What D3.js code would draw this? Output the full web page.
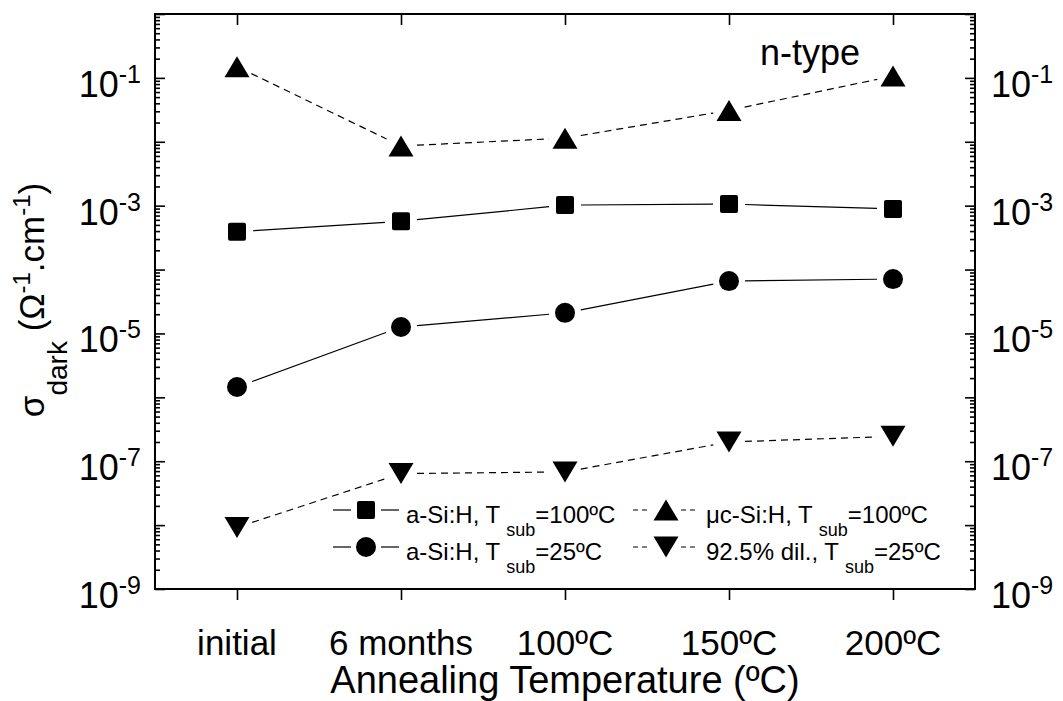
<!DOCTYPE html>
<html>
<head>
<meta charset="utf-8">
<script src="https://cdn.jsdelivr.net/npm/d3@7"></script>
<style>
  body { margin: 0; background: #fff; }
  text { font-family: "Liberation Sans", Arial, sans-serif; fill: #000; }
</style>
</head>
<body>
<div id="chart"></div>
<script>
// data
const categories = ["initial", "6 months", "100ºC", "150ºC", "200ºC"];
const aSi100 = [3.9e-4, 5.7e-4, 1.02e-3, 1.06e-3, 8.9e-4];
const aSi25 = [1.45e-6, 1.26e-5, 2.1e-5, 6.6e-5, 7.1e-5];
const mcSi100 = [0.15, 0.0086, 0.0114, 0.031, 0.107];
const dil25 = [9.2e-9, 6.4e-8, 6.8e-8, 2.0e-7, 2.45e-7];
const yTickExps = [-9, -7, -5, -3, -1];

const width = 1063, height = 701;
const plotL = 155, plotR = 975, plotT = 14, plotB = 589;

const svg = d3.select("#chart").append("svg")
    .attr("width", width)
    .attr("height", height);

const x = d3.scalePoint().domain(categories).range([plotL, plotR]).padding(0.5);
const y = d3.scaleLog().domain([1e-9, 1]).range([plotB, plotT]);

// minor / major log ticks
const major = d3.range(-9, 1).map(e => Math.pow(10, e));
const minor = [];
for (let e = -9; e < 0; e++) {
    for (let m = 2; m <= 9; m++) minor.push(m * Math.pow(10, e));
}

function yAxis(axisFn, x0, vals, size) {
    svg.append("g")
        .attr("transform", `translate(${x0},0)`)
        .call(axisFn(y).tickValues(vals).tickSize(size).tickFormat(""))
        .call(g => g.select(".domain").remove())
        .selectAll("line").attr("stroke", "#000").attr("stroke-width", 1.6);
}
yAxis(d3.axisRight, plotL, major, 10);
yAxis(d3.axisRight, plotL, minor, 5);
yAxis(d3.axisLeft, plotR, major, 10);
yAxis(d3.axisLeft, plotR, minor, 5);

// x ticks: inward at top, outward at bottom
svg.append("g")
    .attr("transform", `translate(0,${plotT})`)
    .call(d3.axisBottom(x).tickSize(11).tickFormat(""))
    .call(g => g.select(".domain").remove())
    .selectAll("line").attr("stroke", "#000").attr("stroke-width", 1.6);
svg.append("g")
    .attr("transform", `translate(0,${plotB})`)
    .call(d3.axisBottom(x).tickSize(11).tickFormat(""))
    .call(g => g.select(".domain").remove())
    .selectAll("line").attr("stroke", "#000").attr("stroke-width", 1.6);

// frame
svg.append("rect")
    .attr("x", plotL).attr("y", plotT)
    .attr("width", plotR - plotL).attr("height", plotB - plotT)
    .attr("fill", "none").attr("stroke", "#000").attr("stroke-width", 2);

// x tick labels
svg.append("g").selectAll("text")
    .data(categories)
    .join("text")
    .attr("x", d => x(d))
    .attr("y", 655)
    .attr("text-anchor", "middle")
    .attr("font-size", 35)
    .text(d => d);

// y tick labels, both sides
function powLabel(xPos, anchor) {
    const t = svg.append("g").selectAll("text")
        .data(yTickExps)
        .join("text")
        .attr("x", xPos)
        .attr("y", d => y(Math.pow(10, d)) + 19)
        .attr("text-anchor", anchor)
        .attr("font-size", 36);
    t.append("tspan").text("10");
    t.append("tspan").attr("font-size", 25).attr("dy", -14).text(d => "-" + (-d));
}
powLabel(141, "end");
powLabel(991, "start");

// axis titles
svg.append("text")
    .attr("x", (plotL + plotR) / 2)
    .attr("y", 693)
    .attr("text-anchor", "middle")
    .attr("font-size", 38)
    .text("Annealing Temperature (ºC)");

const yl = svg.append("text")
    .attr("transform", "translate(44,300) rotate(-90)")
    .attr("text-anchor", "middle")
    .attr("font-size", 35);
yl.append("tspan").text("σ");
yl.append("tspan").attr("font-size", 28).attr("dy", 23).text("dark");
yl.append("tspan").attr("dy", -23).text(" (Ω");
yl.append("tspan").attr("font-size", 24).attr("dy", -14).text("-1");
yl.append("tspan").attr("dy", 14).text(".cm");
yl.append("tspan").attr("font-size", 24).attr("dy", -14).text("-1");
yl.append("tspan").attr("dy", 14).text(")");

svg.append("text")
    .attr("x", 760).attr("y", 65)
    .attr("font-size", 36)
    .text("n-type");

// series
const series = [
    { name: "aSi100", values: aSi100, marker: "square", dash: null },
    { name: "aSi25", values: aSi25, marker: "circle", dash: null },
    { name: "mcSi100", values: mcSi100, marker: "up", dash: "7,5" },
    { name: "dil25", values: dil25, marker: "down", dash: "7,5" }
];

function drawMarker(g, type, cx, cy) {
    if (type === "square") {
        g.append("rect").attr("x", cx - 9).attr("y", cy - 9)
            .attr("width", 18).attr("height", 18).attr("rx", 2).attr("fill", "#000");
    } else if (type === "circle") {
        g.append("circle").attr("cx", cx).attr("cy", cy).attr("r", 10).attr("fill", "#000");
    } else if (type === "up") {
        g.append("path").attr("d", `M${cx},${cy - 10.5}L${cx + 12.5},${cy + 10.5}L${cx - 12.5},${cy + 10.5}Z`)
            .attr("fill", "#000");
    } else {
        g.append("path").attr("d", `M${cx},${cy + 10.5}L${cx + 12.5},${cy - 10.5}L${cx - 12.5},${cy - 10.5}Z`)
            .attr("fill", "#000");
    }
}

const gap = 16;
series.forEach(s => {
    const g = svg.append("g");
    const pts = s.values.map((v, i) => [x(categories[i]), y(v)]);
    for (let i = 0; i < pts.length - 1; i++) {
        const [x1, y1] = pts[i], [x2, y2] = pts[i + 1];
        const len = Math.hypot(x2 - x1, y2 - y1);
        const ux = (x2 - x1) / len, uy = (y2 - y1) / len;
        g.append("line")
            .attr("x1", x1 + ux * gap).attr("y1", y1 + uy * gap)
            .attr("x2", x2 - ux * gap).attr("y2", y2 - uy * gap)
            .attr("stroke", "#000").attr("stroke-width", 1.2)
            .attr("stroke-dasharray", s.dash);
    }
    pts.forEach(p => drawMarker(g, s.marker, p[0], p[1]));
});

// legend
const legendItems = [
    { marker: "square", dash: null, x0: 333, y0: 510, label: "a-Si:H, T", tail: "=100ºC" },
    { marker: "circle", dash: null, x0: 333, y0: 547, label: "a-Si:H, T", tail: "=25ºC" },
    { marker: "up", dash: "5,4", x0: 633, y0: 510, label: "μc-Si:H, T", tail: "=100ºC" },
    { marker: "down", dash: "5,4", x0: 633, y0: 547, label: "92.5% dil., T", tail: "=25ºC" }
];
const lg = svg.append("g");
legendItems.forEach(it => {
    const mx = it.x0 + 33;
    lg.append("line").attr("x1", it.x0).attr("x2", mx - 15)
        .attr("y1", it.y0).attr("y2", it.y0)
        .attr("stroke", "#000").attr("stroke-width", 1.2).attr("stroke-dasharray", it.dash);
    lg.append("line").attr("x1", mx + 15).attr("x2", mx + 33)
        .attr("y1", it.y0).attr("y2", it.y0)
        .attr("stroke", "#000").attr("stroke-width", 1.2).attr("stroke-dasharray", it.dash);
    drawMarker(lg, it.marker, mx, it.y0);
    const t = lg.append("text")
        .attr("x", it.x0 + 73)
        .attr("y", it.y0 + 13)
        .attr("font-size", 24);
    t.append("tspan").text(it.label);
    t.append("tspan").attr("font-size", 18).attr("dx", 6).attr("dy", 13).text("sub");
    t.append("tspan").attr("dy", -13).text(it.tail);
});
</script>
</body>
</html>
